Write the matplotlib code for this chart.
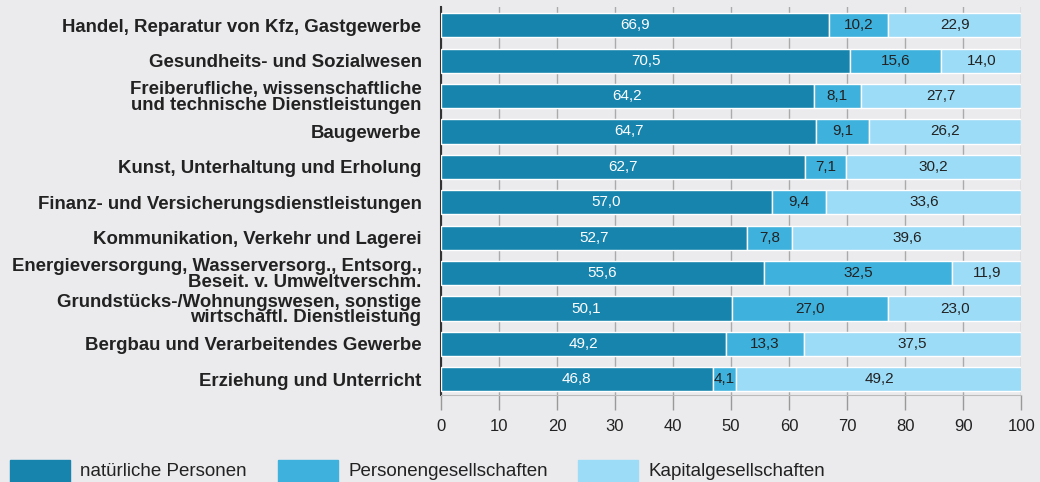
import numpy as np
import matplotlib.pyplot as plt
from matplotlib.patches import Rectangle

# =====================================
# DATEN
# =====================================

branchen = [
    "Handel, Reparatur von Kfz, Gastgewerbe",
    "Gesundheits- und Sozialwesen",
    "Freiberufliche, wissenschaftliche\nund technische Dienstleistungen",
    "Baugewerbe",
    "Kunst, Unterhaltung und Erholung",
    "Finanz- und Versicherungsdienstleistungen",
    "Kommunikation, Verkehr und Lagerei",
    "Energieversorgung, Wasserversorg., Entsorg.,\nBeseit. v. Umweltverschm.",
    "Grundstücks-/Wohnungswesen, sonstige\nwirtschaftl. Dienstleistung",
    "Bergbau und Verarbeitendes Gewerbe",
    "Erziehung und Unterricht",
]

natuerlich = [66.9, 70.5, 64.2, 64.7, 62.7, 57.0, 52.7, 55.6, 50.1, 49.2, 46.8]
personen = [10.2, 15.6, 8.1, 9.1, 7.1, 9.4, 7.8, 32.5, 27.0, 13.3, 4.1]
kapital = [22.9, 14.0, 27.7, 26.2, 30.2, 33.6, 39.6, 11.9, 23.0, 37.5, 49.2]

reihen = ["natürliche Personen", "Personengesellschaften", "Kapitalgesellschaften"]
farben = ["#1784ad", "#3eb1dd", "#9cdcf7"]
textfarben = ["white", "#222222", "#222222"]

xticks = list(range(0, 101, 10))

# =====================================
# FIGUR
# =====================================

plt.rcParams['font.family'] = ['Liberation Sans', 'DejaVu Sans']
bg = "#ebebee"

fig = plt.figure(figsize=(10.4, 4.82), dpi=100, facecolor=bg)
ax = fig.add_axes([0.424, 0.180, 0.558, 0.805])
ax.set_facecolor(bg)

y = np.arange(len(branchen))
links = np.zeros(len(branchen))

for werte, farbe, tf in zip([natuerlich, personen, kapital], farben, textfarben):
    werte = np.array(werte)
    bars = ax.barh(y, werte, left=links, height=0.68, color=farbe,
                   edgecolor="white", linewidth=1, zorder=3)
    for b, v in zip(bars, werte):
        ax.text(b.get_x() + b.get_width() / 2, b.get_y() + b.get_height() / 2,
                f"{v:.1f}".replace(".", ","), ha="center", va="center",
                fontsize=11, color=tf, zorder=4)
    links = links + werte

# =====================================
# ACHSEN
# =====================================

ax.set_xlim(0, 100)
ax.set_ylim(10.45, -0.51)
ax.set_xticks(xticks)
ax.set_xticklabels([str(t) for t in xticks], fontsize=12, color="#222222")
ax.set_yticks(y)
ax.set_yticklabels(branchen, fontsize=13.4, fontweight="bold", color="#222222",
                   linespacing=0.9)
ax.tick_params(axis="y", length=0, pad=14)
ax.tick_params(axis="x", length=11, width=1, color="#999999", pad=6)

ax.grid(axis="x", color="#aaaaaa", linewidth=1, zorder=0)
ax.set_axisbelow(True)

for s in ["top", "right"]:
    ax.spines[s].set_visible(False)
ax.spines["left"].set_color("#333333")
ax.spines["left"].set_linewidth(1.5)
ax.spines["bottom"].set_color("#bbbbbb")

# =====================================
# LEGENDE
# =====================================

W, H = 1040, 482
leg_x = [10, 278, 578]
for x0, name, farbe in zip(leg_x, reihen, farben):
    fig.patches.append(Rectangle((x0 / W, 0), 60 / W, 22 / H,
                                 transform=fig.transFigure, color=farbe))
    fig.text((x0 + 70) / W, 10 / H, name, fontsize=13.5, color="#222222",
             va="center", ha="left")

plt.savefig("out.png", dpi=100, facecolor=bg)
